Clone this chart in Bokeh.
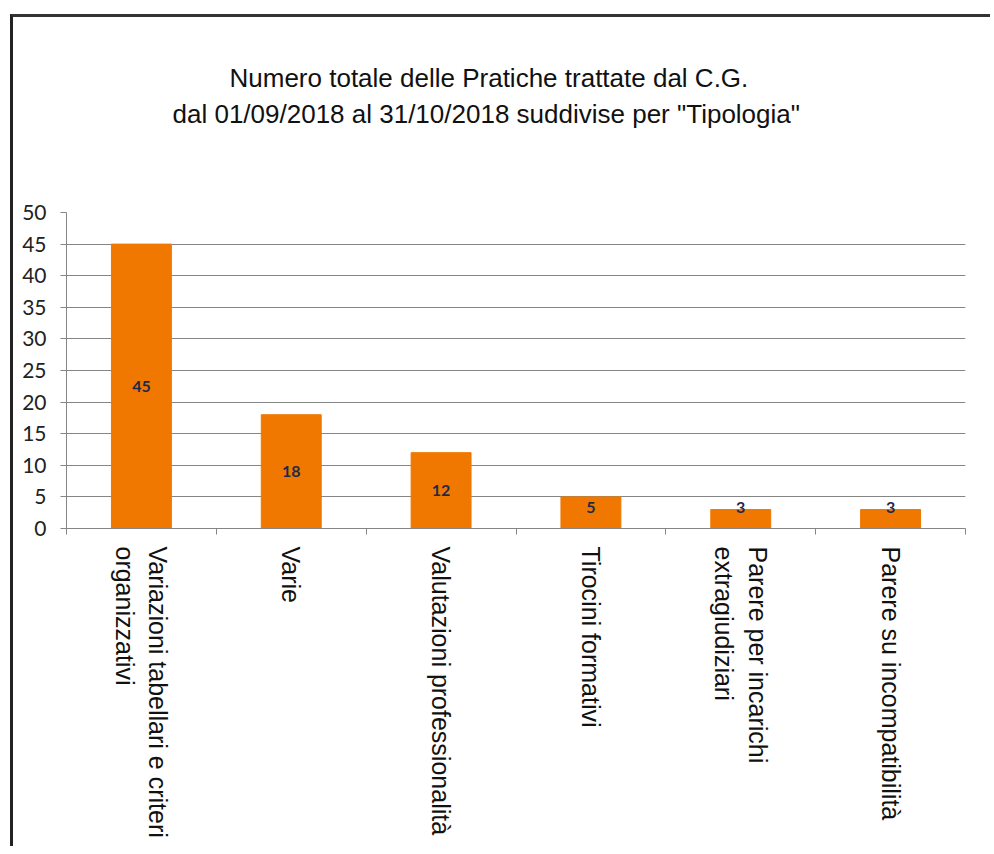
from bokeh.plotting import figure
from bokeh.models import (ColumnDataSource, Range1d, LinearAxis, FixedTicker, LabelSet, Title)
from bokeh.core.properties import value
from bokeh.embed import file_html
from bokeh.resources import INLINE

# ---- data ----
categories = [
    "Variazioni tabellari e criteri\norganizzativi",
    "Varie",
    "Valutazioni professionalità",
    "Tirocini formativi",
    "Parere per incarichi\nextragiudiziari",
    "Parere su incompatibilità",
]
values = [45, 18, 12, 5, 3, 3]
y_ticks = [0, 5, 10, 15, 20, 25, 30, 35, 40, 45, 50]
title_lines = [
    "Numero totale delle Pratiche trattate dal C.G.",
    "dal 01/09/2018 al 31/10/2018 suddivise per \"Tipologia\"",
]

n = len(categories)
centers = [i + 0.5 for i in range(n)]
bounds = list(range(n + 1))
label_y = [max(v / 2, 3.4) for v in values]
source = ColumnDataSource(dict(x=centers, cat=categories, val=values, ly=label_y,
                               txt=[str(v) for v in values]))

GRID = "#858585"
ORANGE = "#F07800"

p = figure(x_range=Range1d(0, n), y_range=Range1d(0, 50),
           frame_width=899, frame_height=316, output_backend="svg", toolbar_location=None,
           x_axis_location=None, y_axis_location=None,
           min_border_left=53, min_border_right=25, min_border_top=195,
           min_border_bottom=318)
p.styles = {"border-left": "3px solid #222", "border-top": "3px solid #333",
            "margin-left": "10px", "margin-top": "14px"}

p.outline_line_color = None
p.background_fill_color = "white"
p.border_fill_color = "white"

# blank spacer between the frame and the title (one invisible tick, no label)
spacer = LinearAxis(ticker=FixedTicker(ticks=[bounds[0]]),
                    major_label_overrides={bounds[0]: ""})
spacer.axis_line_color = None
spacer.major_tick_line_color = "white"
spacer.major_tick_line_alpha = 1.0
spacer.minor_tick_line_color = None
spacer.major_tick_out = 82
spacer.major_tick_in = 0
spacer.major_label_standoff = 0
p.add_layout(spacer, "above")

# title (two lines, line 2 closest to the frame)
p.title.visible = False
for txt, off in [(title_lines[1], 106), (title_lines[0], 163)]:
    t = Title(text=txt, align="left", offset=off, text_font="Liberation Sans",
              text_font_size="26px", text_font_style="normal",
              text_color="#111111", standoff=4)
    p.add_layout(t, "above")

# y axis
yaxis = LinearAxis(ticker=FixedTicker(ticks=y_ticks))
yaxis.axis_line_color = GRID
yaxis.major_tick_line_color = GRID
yaxis.major_tick_out = 6
yaxis.major_tick_in = 0
yaxis.minor_tick_line_color = None
yaxis.major_label_standoff = 14
yaxis.major_label_text_font = "Lato"
yaxis.major_label_text_font_size = "21px"
yaxis.major_label_text_color = "#222222"
p.add_layout(yaxis, "left")

# x axis: labels at category centres, tick marks at category boundaries
xaxis = LinearAxis(ticker=FixedTicker(ticks=centers, minor_ticks=bounds),
                   major_label_overrides={c: lab for c, lab in zip(centers, categories)})
xaxis.axis_line_color = GRID
xaxis.major_tick_line_color = None
xaxis.major_tick_out = 0
xaxis.major_tick_in = 0
xaxis.minor_tick_line_color = GRID
xaxis.minor_tick_out = 6
xaxis.minor_tick_in = 0
xaxis.major_label_orientation = -1.5707963267948966
xaxis.major_label_text_font = "Liberation Sans"
xaxis.major_label_text_font_size = "25px"
xaxis.major_label_text_color = "#111111"
xaxis.major_label_standoff = 12
p.add_layout(xaxis, "below")

# grid
p.xgrid.grid_line_color = None
p.ygrid.ticker = FixedTicker(ticks=y_ticks)
p.ygrid.grid_line_color = GRID
p.ygrid.grid_line_width = 1

# bars
p.vbar(x="x", top="val", width=0.4, source=source, fill_color=ORANGE,
       line_color=ORANGE)

labels = LabelSet(x="x", y="ly", text="txt", source=source, text_align="center",
                  text_baseline="middle", text_font=value("Lato"),
                  text_font_style="bold", text_font_size="16px", text_color="#1f2a4a")
p.add_layout(labels)

open("out.html", "w").write(file_html(p, INLINE))
